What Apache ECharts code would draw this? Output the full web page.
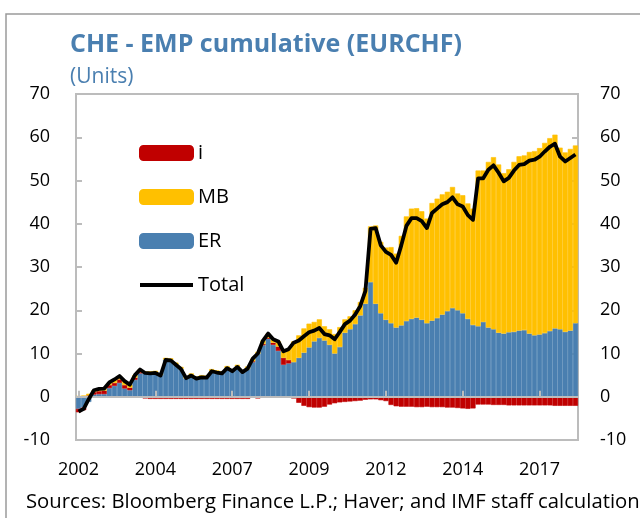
<!DOCTYPE html>
<html>
<head>
<meta charset="utf-8">
<script src="https://cdn.jsdelivr.net/npm/echarts@6/dist/echarts.min.js"></script>
<style>
  html, body { margin: 0; padding: 0; background: #fff; }
  #chart { width: 640px; height: 518px; }
</style>
</head>
<body>
<div id="chart"></div>
<script>
// bi-monthly observations, Jan 2002 .. Mar 2018
var dates = [];
for (var k = 0; k < 98; k++) {
    var m = 2 * k;
    var y = 2002 + Math.floor(m / 12);
    var mm = (m % 12) + 1;
    dates.push(y + '-' + (mm < 10 ? '0' + mm : mm));
}

var er = [
    -2.8, -2.5, -1.2, 0.5, 0.6, 0.6, 2.0, 2.5, 3.2, 1.9,
    1.5, 3.9, 5.4, 5.4, 5.4, 5.6, 5.0, 8.6, 8.4, 7.4,
    6.4, 4.2, 4.9, 4.2, 4.6, 4.5, 5.9, 5.7, 5.5, 6.6,
    6.0, 7.0, 5.7, 6.4, 8.0, 9.9, 11.9, 13.4, 12.0, 10.6,
    7.4, 7.7, 8.0, 9.0, 10.2, 11.4, 12.8, 13.6, 13.0, 12.0,
    10.0, 11.5, 14.8, 15.6, 16.8, 18.8, 21.5, 26.5, 21.5, 19.3,
    17.8, 17.0, 16.0, 16.5, 17.5, 18.0, 18.3, 17.8, 17.0, 17.6,
    18.2, 19.0, 19.8, 20.5, 20.0, 19.3, 18.0, 16.6, 16.3, 17.3,
    16.0, 15.6, 14.8, 14.6, 14.9, 15.0, 15.3, 15.4, 14.6, 14.2,
    14.4, 14.7, 15.2, 15.8, 15.6, 15.0, 15.3, 17.0
];
var mb = [
    0.2, 0.3, 0.4, 0.4, 0.5, 0.5, 0.6, 0.8, 0.8, 0.9,
    0.7, 0.6, 0.6, 0.5, 0.5, 0.4, 0.4, 0.4, 0.5, 0.5,
    0.5, 0.6, 0.5, 0.5, 0.4, 0.4, 0.5, 0.4, 0.4, 0.5,
    0.4, 0.4, 0.5, 0.6, 0.6, 0.5, 0.8, 1.0, 0.8, 1.2,
    1.5, 2.5, 4.8, 5.2, 5.6, 5.5, 4.5, 4.3, 3.3, 3.6,
    4.5, 4.6, 3.1, 3.0, 3.2, 3.1, 3.7, 12.9, 18.1, 16.5,
    16.7, 17.6, 17.1, 20.7, 24.2, 25.5, 25.3, 25.1, 24.2, 27.2,
    27.6, 27.8, 27.6, 28.0, 27.0, 27.3, 26.7, 26.9, 36.0, 35.0,
    38.3, 39.8, 38.9, 37.1, 37.7, 39.3, 40.3, 40.4, 42.0, 42.6,
    43.1, 44.0, 44.6, 44.8, 42.0, 41.5, 42.0, 41.1
];
var iRate = [
    -0.8, -0.6, 0.3, 0.6, 0.7, 0.8, 0.7, 0.7, 0.8, 0.8,
    0.6, 0.5, 0.3, -0.4, -0.5, -0.5, -0.5, -0.5, -0.5, -0.5,
    -0.5, -0.5, -0.5, -0.5, -0.5, -0.5, -0.5, -0.5, -0.5, -0.5,
    -0.5, -0.5, -0.5, -0.5, 0.2, -0.4, 0.3, 0.2, 0.5, 1.0,
    1.6, 0.8, -0.4, -1.4, -2.1, -2.4, -2.5, -2.5, -2.3, -1.8,
    -1.5, -1.3, -1.2, -1.1, -1.0, -0.9, -0.7, -0.6, -0.6, -0.8,
    -1.0, -1.9, -2.2, -2.3, -2.3, -2.3, -2.4, -2.4, -2.3, -2.4,
    -2.4, -2.4, -2.5, -2.5, -2.6, -2.7, -2.8, -2.7, -1.8, -1.8,
    -1.8, -1.9, -1.9, -1.9, -2.0, -2.0, -2.0, -2.0, -2.0, -2.0,
    -2.0, -2.0, -2.0, -2.1, -2.1, -2.1, -2.1, -2.1
];
var total = [
    -3.4, -2.8, -0.5, 1.5, 1.8, 1.9, 3.3, 4.0, 4.8, 3.6,
    2.8, 5.0, 6.3, 5.5, 5.4, 5.5, 4.9, 8.5, 8.4, 7.4,
    6.4, 4.3, 4.9, 4.2, 4.5, 4.4, 5.9, 5.6, 5.4, 6.6,
    5.9, 6.9, 5.7, 6.5, 8.8, 10.0, 13.0, 14.6, 13.3, 12.8,
    10.5, 11.0, 12.5, 13.0, 14.0, 14.9, 15.3, 15.9, 14.5, 14.2,
    13.3, 15.0, 16.8, 17.6, 19.0, 21.0, 24.5, 38.8, 39.0, 35.0,
    33.5, 32.8, 31.0, 35.0, 39.5, 41.3, 41.3, 40.6, 39.0, 42.5,
    43.5, 44.5, 45.0, 46.1, 44.5, 44.0, 42.0, 40.9, 50.5, 50.5,
    52.5, 53.5, 51.8, 49.8, 50.6, 52.3, 53.6, 53.8, 54.6, 54.8,
    55.5, 56.7, 57.8, 58.5, 55.5, 54.4, 55.2, 56.0
];

var yTicks = { min: -10, max: 70, interval: 10 };
var labelEvery = 14;

var blue = '#4a7fb0';
var yellow = '#ffc000';
var red = '#c00000';
var font = '"Open Sans", "Noto Sans", sans-serif';

function barStyle(c) {
    // thin border in the same colour hides the anti-aliasing seams between bars
    return { color: c, borderColor: c, borderWidth: 0.6 };
}

var chart = echarts.init(document.getElementById('chart'), null, { renderer: 'canvas' });

var option = {
    backgroundColor: '#ffffff',
    animation: false,
    textStyle: { fontFamily: font },
    title: [{
        text: 'CHE - EMP cumulative (EURCHF)',
        left: 65,
        top: 27,
        textStyle: { color: blue, fontSize: 25, fontWeight: 'bold', fontFamily: font }
    }, {
        text: '(Units)',
        left: 65,
        top: 62,
        textStyle: { color: blue, fontSize: 21, fontWeight: 'normal', fontFamily: font }
    }, {
        text: 'Sources: Bloomberg Finance L.P.; Haver; and IMF staff calculations',
        left: 21,
        top: 487,
        textStyle: { color: '#000', fontSize: 20.3, fontWeight: 'normal', fontFamily: font }
    }],
    graphic: [{
        type: 'rect',
        shape: { x: 6, y: 14, width: 700, height: 600 },
        style: { fill: 'none', stroke: '#9a9a9a', lineWidth: 1.5 },
        silent: true
    }],
    legend: {
        orient: 'vertical',
        left: 134,
        top: 138,
        itemWidth: 53,
        itemHeight: 14,
        itemGap: 24,
        symbolKeepAspect: true,
        textStyle: { fontSize: 20, color: '#000', fontFamily: font },
        data: ['i', 'MB', 'ER', { name: 'Total', icon: 'path://M0,0H53V4H0Z' }]
    },
    grid: {
        left: 76,
        right: 62,
        top: 94,
        bottom: 78,
        show: true,
        borderColor: '#bcbcbc',
        borderWidth: 2,
        backgroundColor: 'transparent'
    },
    xAxis: [{
        type: 'category',
        data: dates,
        z: 5,
        axisLine: { onZero: true, lineStyle: { color: '#bcbcbc', width: 2 } },
        axisTick: { show: true, inside: true, length: 6, interval: labelEvery, alignWithLabel: true,
            lineStyle: { color: '#bcbcbc', width: 2 } },
        axisLabel: { show: false },
        splitLine: { show: false }
    }, {
        type: 'category',
        data: dates,
        position: 'bottom',
        axisLine: { show: false, onZero: false },
        axisTick: { show: false },
        axisLabel: {
            interval: labelEvery,
            margin: 21,
            fontSize: 18,
            color: '#000',
            fontFamily: font,
            formatter: function (v) { return v.slice(0, 4); }
        },
        splitLine: { show: false }
    }],
    yAxis: [{
        type: 'value',
        min: yTicks.min,
        max: yTicks.max,
        interval: yTicks.interval,
        position: 'left',
        axisLine: { show: false },
        axisTick: { show: true, inside: true, length: 6, lineStyle: { color: '#bcbcbc', width: 2 } },
        axisLabel: { fontSize: 18, color: '#000', margin: 26, fontFamily: font },
        splitLine: { show: false }
    }, {
        type: 'value',
        min: yTicks.min,
        max: yTicks.max,
        interval: yTicks.interval,
        position: 'right',
        axisLine: { show: false },
        axisTick: { show: true, inside: true, length: 6, lineStyle: { color: '#bcbcbc', width: 2 } },
        axisLabel: { fontSize: 18, color: '#000', margin: 22, fontFamily: font },
        splitLine: { show: false }
    }],
    // stacking order: ER at the base, then i, then MB on top
    series: [{
        name: 'ER',
        type: 'bar',
        stack: 'emp',
        data: er,
        barWidth: '100%',
        barCategoryGap: 0,
        itemStyle: barStyle(blue)
    }, {
        name: 'i',
        type: 'bar',
        stack: 'emp',
        data: iRate,
        barWidth: '100%',
        barCategoryGap: 0,
        itemStyle: barStyle(red)
    }, {
        name: 'MB',
        type: 'bar',
        stack: 'emp',
        data: mb,
        barWidth: '100%',
        barCategoryGap: 0,
        itemStyle: barStyle(yellow)
    }, {
        name: 'Total',
        type: 'line',
        data: total,
        symbol: 'none',
        z: 10,
        lineStyle: { color: '#000', width: 3.8, join: 'round' },
        itemStyle: { color: '#000' }
    }]
};

chart.setOption(option);
</script>
</body>
</html>
